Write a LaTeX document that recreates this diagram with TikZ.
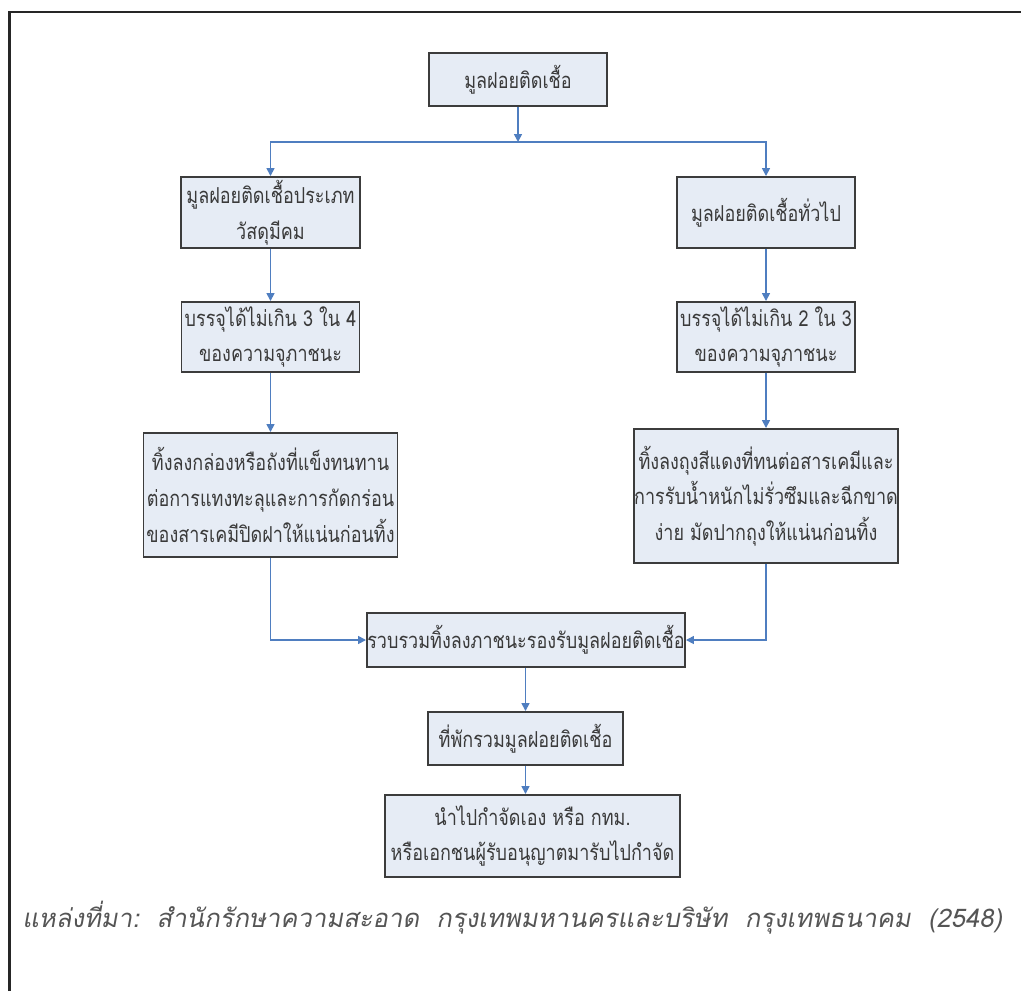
\documentclass[tikz,border=0pt]{standalone}
\usepackage{fontspec}
\usetikzlibrary{arrows.meta}
\newfontfamily\thaifont[Script=Thai,FakeStretch=0.82]{Loma}
\newfontfamily\thaiitfont[Script=Thai,FakeSlant=0.18]{Loma}
\definecolor{boxfill}{HTML}{E6ECF5}
\definecolor{boxline}{HTML}{3C3C3C}
\definecolor{connblue}{HTML}{4F7EC0}
\definecolor{txtgray}{HTML}{3A3A3A}
\definecolor{capgray}{HTML}{555555}
\tikzset{
  stepbox/.style={draw=boxline, line width=1.1pt, fill=boxfill, inner sep=0pt,
    align=center, text=txtgray, font=\thaifont\fontsize{12.5}{20.3}\selectfont},
  conn/.style={draw=connblue, line width=0.9pt},
  arr/.style={conn, -{Triangle[width=4.5pt,length=4.5pt]}},
}
\begin{document}
\begin{tikzpicture}[x=0.02cm,y=-0.02cm]
\useasboundingbox (0,0) rectangle (1021,991);
\fill[white] (0,0) rectangle (1021,991);
% frame (top and left only)
\draw[line width=1.7pt, draw=black!85] (9.5,991) -- (9.5,12) -- (1021,12);

\node[stepbox, minimum width=178*0.02cm, minimum height=53*0.02cm] (top) at (518,79.5) {มูลฝอยติดเชื้อ};
\node[stepbox, minimum width=179*0.02cm, minimum height=71*0.02cm] (A) at (270.5,212.5) {มูลฝอยติดเชื้อประเภท\\วัสดุมีคม};
\node[stepbox, minimum width=178*0.02cm, minimum height=71*0.02cm] (B) at (766,212.5) {มูลฝอยติดเชื้อทั่วไป};
\node[stepbox, minimum width=178*0.02cm, minimum height=70*0.02cm] (C) at (270.5,337) {บรรจุได้ไม่เกิน 3 ใน 4\\ของความจุภาชนะ};
\node[stepbox, minimum width=178*0.02cm, minimum height=70*0.02cm] (D) at (766,337) {บรรจุได้ไม่เกิน 2 ใน 3\\ของความจุภาชนะ};
\node[stepbox, minimum width=254*0.02cm, minimum height=124*0.02cm] (E) at (270.5,495) {ทิ้งลงกล่องหรือถังที่แข็งทนทาน\\ต่อการแทงทะลุและการกัดกร่อน\\ของสารเคมีปิดฝาให้แน่นก่อนทิ้ง};
\node[stepbox, minimum width=264*0.02cm, minimum height=134*0.02cm] (F) at (766,496) {ทิ้งลงถุงสีแดงที่ทนต่อสารเคมีและ\\การรับน้ำหนักไม่รั่วซึมและฉีกขาด\\ง่าย มัดปากถุงให้แน่นก่อนทิ้ง};
\node[stepbox, minimum width=318*0.02cm, minimum height=54*0.02cm] (G) at (526,640) {รวบรวมทิ้งลงภาชนะรองรับมูลฝอยติดเชื้อ};
\node[stepbox, minimum width=195*0.02cm, minimum height=53*0.02cm] (H) at (525.5,738.5) {ที่พักรวมมูลฝอยติดเชื้อ};
\node[stepbox, minimum width=295*0.02cm, minimum height=82*0.02cm] (I) at (532.5,836) {นำไปกำจัดเอง หรือ กทม.\\หรือเอกชนผู้รับอนุญาตมารับไปกำจัด};

\coordinate (split) at (518,142);
\draw[arr] (top.south) -- (split);
\draw[arr] (split) -| (A.north);
\draw[arr] (split) -| (B.north);
\draw[arr] (A.south) -- (C.north);
\draw[arr] (B.south) -- (D.north);
\draw[arr] (C.south) -- (C.south |- E.north);
\draw[arr] (D.south) -- (F.north);
\draw[arr] (E.south) |- (G.west);
\draw[arr] (F.south) |- (G.east);
\draw[arr] (G.south -| H.north) -- (H.north);
\draw[arr] (H.south) -- (H.south |- I.north);

\node[anchor=west, inner sep=0pt, text=capgray, font=\thaiitfont\fontsize{14.6}{18}\selectfont] (cap) at (22,918)
  {แหล่งที่มา:\ \ สำนักรักษาความสะอาด\ \ กรุงเทพมหานครและบริษัท\ \ กรุงเทพธนาคม\ \ (2548)};
\end{tikzpicture}
\end{document}
